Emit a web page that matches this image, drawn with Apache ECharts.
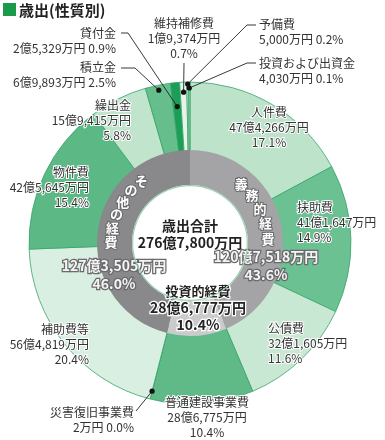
<!DOCTYPE html>
<html><head><meta charset="utf-8">
<script src="https://cdn.jsdelivr.net/npm/echarts@6/dist/echarts.min.js"></script>
<style>html,body{margin:0;padding:0;background:#fff}#c{width:385px;height:440px}</style>
</head><body><div id="c"></div>
<script>
// ---- data (万円) ----
const categories = ['人件費','扶助費','公債費','普通建設事業費','災害復旧事業費','補助費等','物件費','繰出金','積立金','貸付金','維持補修費','予備費','投資および出資金'];
const values = [474266,411647,321605,286775,2,564819,425645,159415,69893,25329,19374,5000,4030];
const groupNames = ['義務的経費','投資的経費','その他の経費'];
const groupValues = [1207518,286777,1273505];
const titleText = '歳出(性質別)';
const totalName = '歳出合計';

// ---- styles / layout ----
const FONT = '"Noto Sans CJK JP","Noto Sans",sans-serif';
const CX = 190, CY = 243, R_OUT = 161, R_MID = 93, R_IN = 58;
const outerColors = ['#bde3cb','#6cc193','#c8e8d3','#5fba87','#5fba87','#d9efe1','#5cb985','#c0e4cc','#66be8d','#1b9e56','#e6f4ea','#cfeadb','#a6d9b9'];
const innerColors = ['#a4a4a7','#cbcbcb','#89898c'];
const outerLayout = [
  {x:269,y:127.5,align:'center',n:3},
  {x:297,y:222.5,align:'left',n:3},
  {x:268,y:343.5,align:'left',n:3},
  {x:207,y:417.5,align:'center',n:3},
  {x:134,y:419.5,align:'right',n:2,r:153,pts:[[136,411]]},
  {x:89,y:344.5,align:'right',n:3},
  {x:89,y:187.5,align:'right',n:3},
  {x:131,y:120.5,align:'right',n:3},
  {x:116,y:74.5,align:'right',n:2,r:156,pts:[[135,68],[121,68]]},
  {x:116,y:40.5,align:'right',n:2,r:137,pts:[[128,33],[121,33]]},
  {x:184,y:38.5,align:'center',n:3,r:151,pts:[[184,63]]},
  {x:259,y:32,align:'left',n:2,r:159,pts:[[247,25],[256,25]]},
  {x:259,y:70.5,align:'left',n:2,r:155,pts:[[247,63],[256,63]]}
];
const innerLayout = [
  {x:266,y:266,align:'center'},
  {x:198,y:308,align:'center'},
  {x:114,y:275,align:'center'}
];
const ringText = [
  {chars:'義務的経費', start:41, step:11.5, r:78},
  {chars:'その他の経費', start:-38, step:-10.2, r:79}
];

// ---- helpers ----
const total = values.reduce((a,b)=>a+b,0);
const pct = v => (v/total*100).toFixed(1)+'%';
function fmtMan(v){
  const oku = Math.floor(v/10000), man = v%10000;
  const manStr = man>=1000 ? Math.floor(man/1000)+','+String(man%1000).padStart(3,'0') : String(man);
  return (oku ? oku+'億' : '') + manStr + '万円';
}
function polar(r,a){ const t=a*Math.PI/180; return [CX+r*Math.sin(t), CY-r*Math.cos(t)]; }
function midAngle(arr,i){ let s=0; for(let k=0;k<i;k++) s+=arr[k]; return (s+arr[i]/2)/total*360; }

const chart = echarts.init(document.getElementById('c'));

const graphics = [
  {type:'rect', shape:{x:3,y:3,width:13,height:13}, style:{fill:'#1a9a4a'}},
  {type:'text', x:19, y:10, style:{text:titleText, font:'bold 15px '+FONT, fill:'#222', verticalAlign:'middle'}},
  {type:'text', x:CX, y:CY-17, z:100, style:{text:totalName, font:'bold 14px '+FONT, fill:'#222', align:'center', verticalAlign:'middle'}},
  {type:'text', x:CX, y:CY, z:100, style:{text:fmtMan(total), font:'bold 14px '+FONT, fill:'#222', align:'center', verticalAlign:'middle'}}
];
ringText.forEach(rt=>{
  Array.from(rt.chars).forEach((ch,k)=>{
    const p = polar(rt.r, rt.start + k*rt.step);
    graphics.push({type:'text', x:p[0], y:p[1], z:100, style:{text:ch, font:'bold 13px '+FONT, fill:'#fff', stroke:'#6a6a6c', lineWidth:2, align:'center', verticalAlign:'middle'}});
  });
});
outerLayout.forEach((L,i)=>{
  if (L.r){
    const p = polar(L.r, midAngle(values,i));
    graphics.push({type:'polyline', z:99, shape:{points:[p].concat(L.pts)}, style:{stroke:'#222', lineWidth:0.9, fill:null}});
    graphics.push({type:'circle', z:100, shape:{cx:p[0], cy:p[1], r:2.6}, style:{fill:'#111'}});
  }
});

const option = {
  animation:false,
  graphic: graphics,
  series:[
    {
      type:'pie', radius:[86,R_OUT], center:[CX,CY], startAngle:90, clockwise:true,
      avoidLabelOverlap:false, silent:true, z:1,
      itemStyle:{borderColor:'#38a468', borderWidth:0.8},
      label:{show:true, position:'outside', fontFamily:FONT, fontSize:12, lineHeight:15, color:'#333',
        textBorderColor:'#fff', textBorderWidth:2,
        formatter: p => {
          const L = outerLayout[p.dataIndex];
          return L.n===2 ? p.name+'\n'+fmtMan(p.value)+' '+pct(p.value)
                         : p.name+'\n'+fmtMan(p.value)+'\n'+pct(p.value);
        }},
      labelLine:{show:false},
      labelLayout: p => {
        const L = outerLayout[p.dataIndex];
        return {x:L.x, y:L.y, align:L.align, verticalAlign:'middle'};
      },
      data: categories.map((n,i)=>({name:n, value:values[i], itemStyle:{color:outerColors[i]}}))
    },
    {
      type:'pie', radius:[R_IN-1.2,R_IN], center:[CX,CY], silent:true, z:3,
      label:{show:false}, labelLine:{show:false},
      data:[{value:1,itemStyle:{color:'#9ad2b0'}}]
    },
    {
      type:'pie', radius:[R_IN,R_MID], center:[CX,CY], startAngle:90, clockwise:true,
      avoidLabelOverlap:false, silent:true, z:2,
      itemStyle:{borderWidth:0},
      label:{show:true, position:'outside', fontFamily:FONT,
        formatter: p => p.dataIndex===1
          ? '{n|'+p.name+'}\n{b|'+fmtMan(p.value)+'}\n{b|'+pct(p.value)+'}'
          : '{w|'+fmtMan(p.value)+'}\n{w|'+pct(p.value)+'}',
        rich:{
          n:{fontFamily:FONT, fontSize:13, fontWeight:'bold', color:'#222', textBorderColor:'#fff', textBorderWidth:2.5, lineHeight:17},
          b:{fontFamily:FONT, fontSize:14, fontWeight:'bold', color:'#222', textBorderColor:'#fff', textBorderWidth:2.5, lineHeight:17},
          w:{fontFamily:FONT, fontSize:14, fontWeight:'bold', color:'#f4f4f4', textBorderColor:'#6a6a6c', textBorderWidth:2.5, lineHeight:18}
        }},
      labelLine:{show:false},
      labelLayout: p => {
        const L = innerLayout[p.dataIndex];
        return {x:L.x, y:L.y, align:L.align, verticalAlign:'middle'};
      },
      data: groupNames.map((n,i)=>({name:n, value:groupValues[i], itemStyle:{color:innerColors[i]}}))
    }
  ]
};
chart.setOption(option);
</script>
</body></html>
